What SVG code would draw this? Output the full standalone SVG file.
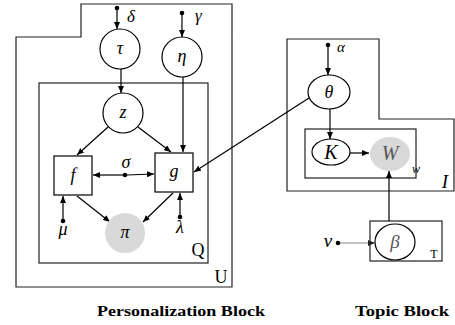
<svg xmlns="http://www.w3.org/2000/svg" width="455" height="325" viewBox="0 0 455 325">
<defs>
<marker id="ah" markerUnits="userSpaceOnUse" markerWidth="8" markerHeight="6" refX="7" refY="3" orient="auto">
<path d="M0,0 L7,3 L0,6 z" fill="#000"/>
</marker>
<marker id="ahg" markerUnits="userSpaceOnUse" markerWidth="8" markerHeight="6" refX="7" refY="3" orient="auto">
<path d="M0,0 L7,3 L0,6 z" fill="#222"/>
</marker>
<style>
.plate{fill:none;stroke:#222;stroke-width:1.2}
.node{fill:#fff;stroke:#000;stroke-width:1.2}
.obs{fill:#d9d9d9;stroke:none}
.dot{fill:#000}
.e{stroke:#000;stroke-width:1.2;fill:none;marker-end:url(#ah)}
.eg{stroke:#888;stroke-width:1.2;fill:none;marker-end:url(#ahg)}
.m{font-style:italic;font-size:18px;fill:#000;text-anchor:middle}
.s{font-style:italic;font-size:17px;fill:#000}
.p{font-size:18px;fill:#000;text-anchor:middle}
.b{font-weight:bold;font-size:15px;fill:#000}
</style>
</defs>
<g font-family="Liberation Serif, Times New Roman, serif">
<g id="plates">
<polygon id="plate-U" class="plate" points="16,37 81,37 81,4 232,4 232,287 16,287"/>
<rect id="plate-Q" class="plate" x="39" y="83" width="169" height="180"/>
<polygon id="plate-I" class="plate" points="287,39 379,39 379,119 454,119 454,191 287,191"/>
<rect id="plate-W" class="plate" x="305" y="129" width="111" height="49"/>
<rect id="plate-T" class="plate" x="370" y="221" width="72" height="40"/>
<text class="p" x="198" y="256">Q</text>
<text class="p" x="221" y="283">U</text>
<text class="s" x="445" y="188" style="font-size:19px;text-anchor:middle">I</text>
<text class="s" x="416" y="173" style="font-size:12px;text-anchor:middle">w</text>
<text class="p" x="434" y="258" style="font-size:12px">T</text>
</g>
<g id="connectors">
<line class="e" x1="117" y1="10" x2="117" y2="29"/>
<line class="e" x1="182" y1="15" x2="182" y2="37"/>
<line class="e" x1="121" y1="69" x2="121" y2="93"/>
<line class="e" x1="108" y1="127" x2="77" y2="155"/>
<line class="e" x1="138" y1="127" x2="171" y2="152"/>
<line class="e" x1="183" y1="77" x2="183" y2="152"/>
<line class="e" x1="123" y1="175" x2="93" y2="175"/>
<line class="e" x1="127" y1="175" x2="154" y2="174"/>
<line class="e" x1="63" y1="219" x2="63" y2="196"/>
<line class="e" x1="180" y1="215" x2="180" y2="193"/>
<line class="e" x1="77" y1="196" x2="110" y2="222"/>
<line class="e" x1="173" y1="193" x2="143" y2="222"/>
<line class="e" x1="309" y1="98" x2="194" y2="172"/>
<line class="e" x1="328" y1="47" x2="328" y2="75"/>
<line class="e" x1="330" y1="109" x2="330" y2="139"/>
<line class="e" x1="350" y1="153" x2="369" y2="153"/>
<line class="e" x1="389" y1="221" x2="389" y2="171"/>
<line class="eg" x1="340" y1="243" x2="375" y2="243"/>
</g>
<g id="param-delta"><circle class="dot" cx="117" cy="8" r="2.3"/><text class="s" x="127" y="22">δ</text></g>
<g id="param-gamma"><circle class="dot" cx="182" cy="13" r="2.3"/><text class="s" x="195" y="21">γ</text></g>
<g id="param-sigma"><circle class="dot" cx="125" cy="175" r="2.3"/><text class="m" x="126" y="168">σ</text></g>
<g id="param-mu"><circle class="dot" cx="63" cy="221" r="2.3"/><text class="m" x="63" y="235">μ</text></g>
<g id="param-lambda"><circle class="dot" cx="180" cy="217" r="2.3"/><text class="m" x="180" y="233">λ</text></g>
<g id="param-alpha"><circle class="dot" cx="328" cy="45" r="2.3"/><text class="s" x="337" y="52" style="font-size:15px">α</text></g>
<g id="param-nu"><circle class="dot" cx="338" cy="243" r="2.3"/><text class="m" x="328" y="247" style="font-size:19px">ν</text></g>
<g id="node-tau"><circle class="node" cx="120" cy="49" r="20"/><text class="m" x="120" y="54">τ</text></g>
<g id="node-eta"><circle class="node" cx="182" cy="57" r="20"/><text class="m" x="182" y="62">η</text></g>
<g id="node-z"><circle class="node" cx="123" cy="113" r="20"/><text class="m" x="123" y="118">z</text></g>
<g id="node-f"><rect class="node" x="54" y="156" width="38" height="39"/><text class="m" x="73" y="181">f</text></g>
<g id="node-g"><rect class="node" x="155" y="153" width="38" height="39"/><text class="m" x="174" y="177">g</text></g>
<g id="node-pi"><circle class="obs" cx="125" cy="233" r="20"/><text class="m" x="125" y="238">π</text></g>
<g id="node-theta"><ellipse class="node" cx="329" cy="92" rx="21" ry="17"/><text class="m" x="329" y="98">θ</text></g>
<g id="node-K"><ellipse class="node" cx="331" cy="152" rx="19" ry="13"/><text class="m" x="331" y="159" style="font-size:20px">K</text></g>
<g id="node-W"><ellipse class="obs" cx="390" cy="154" rx="20" ry="17"/><text class="m" x="390" y="160" style="font-size:20px;fill:#555">W</text></g>
<g id="node-beta"><ellipse class="node" cx="395" cy="242" rx="20" ry="18"/><text class="m" x="395" y="248" style="font-size:19px;fill:#555">β</text></g>
<g id="captions">
<text class="b" x="97" y="316" textLength="168" lengthAdjust="spacingAndGlyphs">Personalization Block</text>
<text class="b" x="355" y="316" textLength="94" lengthAdjust="spacingAndGlyphs">Topic Block</text>
</g>
</g>
</svg>
